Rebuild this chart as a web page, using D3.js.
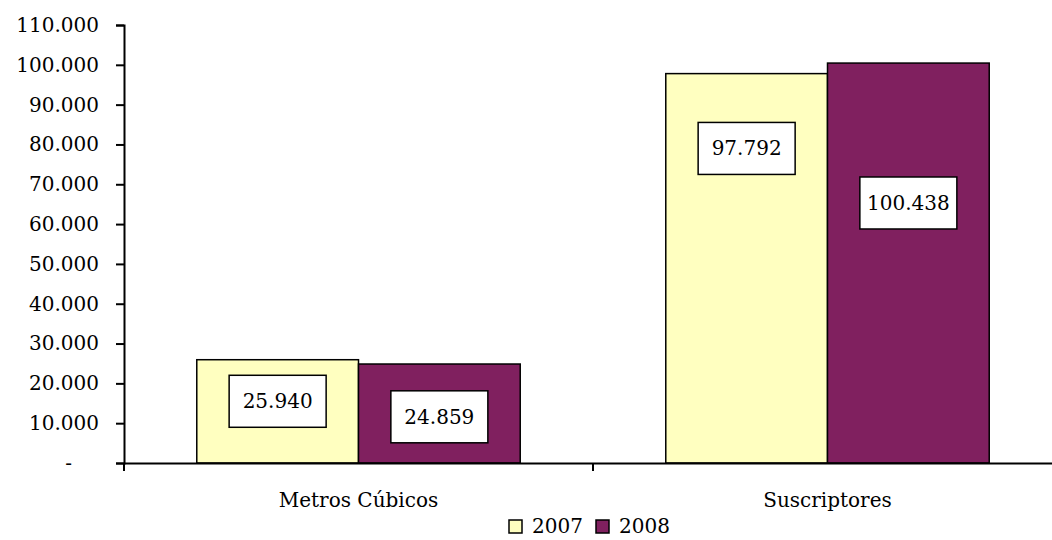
<!DOCTYPE html>
<html><head><meta charset="utf-8">
<script src="https://cdn.jsdelivr.net/npm/d3@7"></script>
<style>body{margin:0;background:#fff}svg{display:block}text{font-family:"DejaVu Serif",serif;fill:#000}</style>
</head><body><svg id="c" width="1052" height="540"></svg>
<script>
const categories = ["Metros Cúbicos", "Suscriptores"];
const seriesNames = ["2007", "2008"];
const values2007 = [25940, 97792];
const values2008 = [24859, 100438];
// where (in data units) each data label box is centred, as placed in the original
const labelAt2007 = [15500, 79000];
const labelAt2008 = [11600, 65300];
const yTicks = [0, 10000, 20000, 30000, 40000, 50000, 60000, 70000, 80000, 90000, 100000, 110000];
const colors = ["#FFFFC0", "#80205F"];

const fmt = v => v === 0 ? "-" : d3.format(",")(v).replace(/,/g, ".");
const svg = d3.select("#c");
const m = {left:124, top:25, bottom:77};
const W = 1062, H = 540;
const x = d3.scaleBand().domain(categories).range([m.left, W]).paddingInner(0).paddingOuter(0);
const y = d3.scaleLinear().domain([0, 110000]).range([H - m.bottom, m.top]);
const xs = d3.scaleBand().domain(seriesNames).range([0, x.bandwidth()]).paddingInner(0).paddingOuter(0.45);

const series = [values2007, values2008];
const labelAt = [labelAt2007, labelAt2008];

// bars
seriesNames.forEach((s, si) => {
  svg.append("g").selectAll("rect").data(categories).join("rect")
    .attr("x", c => x(c) + xs(s))
    .attr("y", (c, i) => y(series[si][i]))
    .attr("width", xs.bandwidth())
    .attr("height", (c, i) => y(0) - y(series[si][i]))
    .attr("fill", colors[si]).attr("stroke", "#000").attr("stroke-width", 1.5);
});

// y axis
const ya = svg.append("g").attr("transform", `translate(${m.left},0)`)
  .call(d3.axisLeft(y).tickValues(yTicks).tickFormat(fmt).tickSize(8).tickPadding(17));
ya.select(".domain").attr("stroke-width", 2);
ya.selectAll(".tick line").attr("stroke-width", 2);
ya.selectAll(".tick text").style("font-size", "20px").attr("font-family", null)
  .attr("dx", d => d === 0 ? -27 : 0);

// x axis
const xa = svg.append("g").attr("transform", `translate(0,${y(0)})`)
  .call(d3.axisBottom(x).tickSize(0).tickPadding(0));
xa.select(".domain").attr("stroke-width", 2);
xa.selectAll(".tick text").style("font-size", "20px").attr("font-family", null).attr("dy", "44px");
// category separators
svg.append("g").selectAll("line").data([x(categories[0]), x(categories[1])]).join("line")
  .attr("x1", d => d).attr("x2", d => d).attr("y1", y(0)).attr("y2", y(0) + 8)
  .attr("stroke", "#000").attr("stroke-width", 2);

// data labels
seriesNames.forEach((s, si) => {
  categories.forEach((c, i) => {
    const cx = x(c) + xs(s) + xs.bandwidth() / 2;
    const cy = y(labelAt[si][i]);
    const g = svg.append("g");
    const r = g.append("rect");
    const t = g.append("text").attr("x", cx).attr("y", cy).attr("text-anchor", "middle")
      .attr("dominant-baseline", "central").style("font-size", "20px").text(fmt(series[si][i]));
    const w = Math.max(97, t.node().getComputedTextLength() + 14);
    r.attr("x", cx - w / 2).attr("y", cy - 26).attr("width", w).attr("height", 52)
      .attr("fill", "#fff").attr("stroke", "#000").attr("stroke-width", 1.5);
  });
});

// legend
const leg = svg.append("g");
const legX = [509, 596];
seriesNames.forEach((s, si) => {
  leg.append("rect").attr("x", legX[si]).attr("y", 520).attr("width", 13).attr("height", 13)
    .attr("fill", colors[si]).attr("stroke", "#000").attr("stroke-width", 1.5);
  leg.append("text").attr("x", legX[si] + 23).attr("y", 533).style("font-size", "20px").text(s);
});
</script></body></html>
